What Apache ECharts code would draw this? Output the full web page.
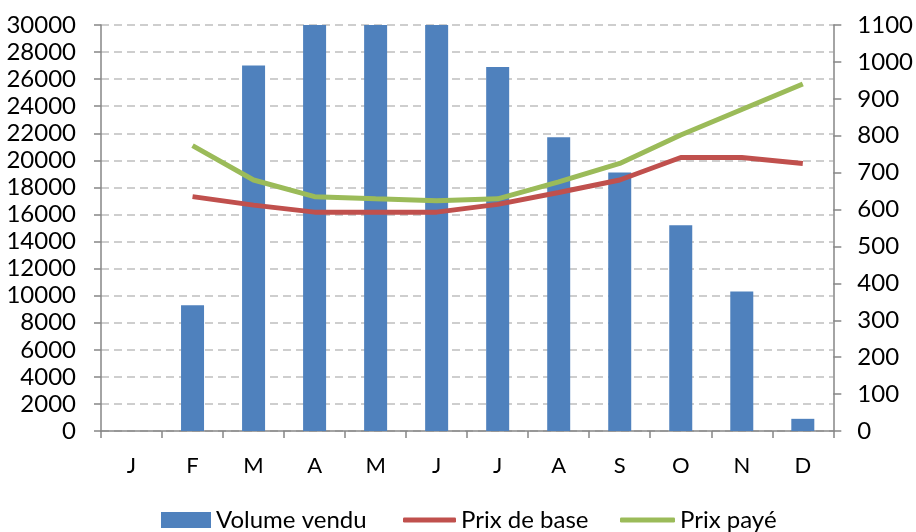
<!DOCTYPE html>
<html>
<head>
<meta charset="utf-8">
<script src="https://cdn.jsdelivr.net/npm/echarts@6/dist/echarts.min.js"></script>
<style>
html,body{margin:0;padding:0;background:#fff;}
#c{width:916px;height:532px;}
</style>
</head>
<body>
<div id="c"></div>
<script>
const months = ['J','F','M','A','M','J','J','A','S','O','N','D'];
const volumeVendu = [null, 9300, 27000, 30000, 30000, 30000, 26900, 21700, 19100, 15200, 10300, 900];
const prixDeBase = [null, 635, 612, 593, 593, 593, 614, 646, 680, 741, 741, 725];
const prixPaye = [null, 773, 680, 635, 629, 624, 629, 675, 725, 802, 871, 940];

const FONT = 'Lato, "Open Sans", sans-serif';
const TXT = '#000';
const AXIS = '#868686';
const FS = 24;

const chart = echarts.init(document.getElementById('c'), null, {renderer: 'canvas'});
const legendText = {fontSize: FS, color: TXT, fontFamily: FONT};
chart.setOption({
  animation: false,
  textStyle: {fontFamily: FONT},
  grid: {left: 101, right: 79, top: 25, bottom: 101, containLabel: false},
  legend: [
    {data: [{name: 'Volume vendu', icon: 'rect'}], left: 161, top: 508, padding: 0, itemWidth: 50, itemHeight: 16, itemGap: 5,
      textStyle: legendText},
    {data: [{name: 'Prix de base', icon: 'roundRect'}], left: 403, top: 508, padding: 0, itemWidth: 53, itemHeight: 5,
      textStyle: legendText},
    {data: [{name: 'Prix payé', icon: 'roundRect'}], left: 620, top: 508, padding: 0, itemWidth: 55, itemHeight: 5,
      textStyle: legendText}
  ],
  xAxis: {
    type: 'category',
    data: months,
    boundaryGap: true,
    axisLine: {lineStyle: {color: AXIS, width: 1.5}},
    axisTick: {show: true, length: 7, alignWithLabel: false, lineStyle: {color: AXIS, width: 1.5}},
    axisLabel: {color: TXT, fontSize: FS - 2, margin: 24, fontFamily: FONT}
  },
  yAxis: [
    {
      type: 'value', min: 0, max: 30000, interval: 2000, position: 'left',
      axisLine: {show: true, lineStyle: {color: AXIS, width: 1.5}},
      axisTick: {show: true, length: 7, lineStyle: {color: AXIS, width: 1.5}},
      axisLabel: {color: TXT, fontSize: FS, margin: 25, fontFamily: FONT, formatter: v => String(v)},
      splitLine: {show: true, lineStyle: {color: '#bfbfbf', width: 1.5, type: [8, 5]}}
    },
    {
      type: 'value', min: 0, max: 1100, interval: 100, position: 'right',
      axisLine: {show: true, lineStyle: {color: AXIS, width: 1.5}},
      axisTick: {show: true, length: 8, lineStyle: {color: AXIS, width: 1.5}},
      axisLabel: {color: TXT, fontSize: FS, margin: 24, fontFamily: FONT, formatter: v => String(v)},
      splitLine: {show: false}
    }
  ],
  series: [
    {
      name: 'Volume vendu', type: 'bar', yAxisIndex: 0, data: volumeVendu,
      barWidth: 23, itemStyle: {color: '#4f81bd'}
    },
    {
      name: 'Prix de base', type: 'line', yAxisIndex: 1, data: prixDeBase,
      showSymbol: false, symbol: 'none', connectNulls: false,
      lineStyle: {color: '#c0504d', width: 5}, itemStyle: {color: '#c0504d'}
    },
    {
      name: 'Prix payé', type: 'line', yAxisIndex: 1, data: prixPaye,
      showSymbol: false, symbol: 'none', connectNulls: false,
      lineStyle: {color: '#9bbb59', width: 5}, itemStyle: {color: '#9bbb59'}
    }
  ]
});
</script>
</body>
</html>
